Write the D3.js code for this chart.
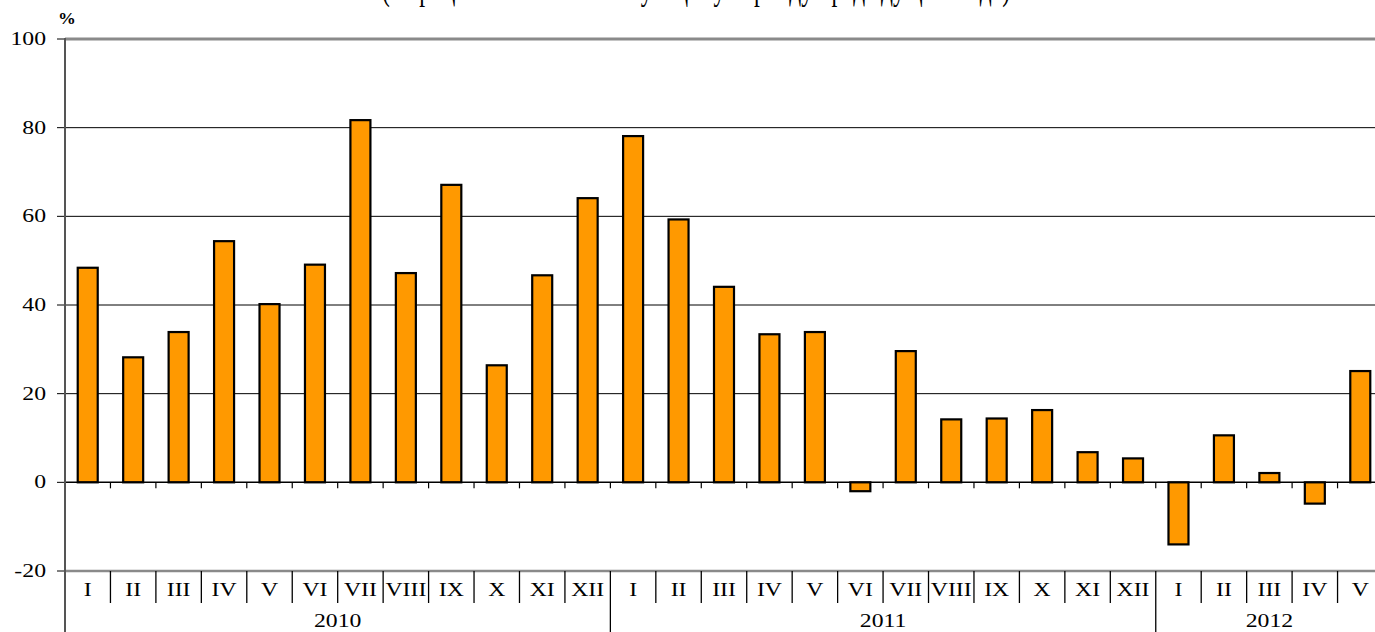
<!DOCTYPE html>
<html><head><meta charset="utf-8">
<script src="https://cdn.jsdelivr.net/npm/d3@7"></script>
<style>body{margin:0;background:#fff;overflow:hidden}svg{display:block}</style>
</head><body>
<svg id="c" width="1375" height="632"></svg>
<script>
const months = ["I","II","III","IV","V","VI","VII","VIII","IX","X","XI","XII",
                "I","II","III","IV","V","VI","VII","VIII","IX","X","XI","XII",
                "I","II","III","IV","V"];
const years = ["2010","2011","2012"];
const yearCounts = [12,12,5];
const values = [48.4,28.2,33.9,54.4,40.2,49.1,81.7,47.2,67.1,26.4,46.7,64.1,
                78.1,59.3,44.1,33.4,33.9,-2.0,29.6,14.2,14.4,16.3,6.8,5.4,
                -14.0,10.6,2.1,-4.8,25.1];
const yTicks = [-20,0,20,40,60,80,100];
const title = "(в процентах к соответствующему периоду предыдущего года)";

(function(){
const svg = d3.select("#c");
const pL = 65, pR = 1383, pT = 39, pB = 571;
const idx = d3.range(values.length);
const x = d3.scaleBand().domain(idx).range([pL, pR]).paddingInner(0).paddingOuter(0);
const y = d3.scaleLinear().domain([-20, 100]).range([pB, pT]);
const SX = 1.32;
const font = "'Liberation Serif', 'Times New Roman', serif";

function stext(g, xx, yy, txt, size, anchor, weight, sx) {
  return g.append("text")
    .attr("transform", `translate(${xx},${yy}) scale(${sx || SX},1)`)
    .attr("text-anchor", anchor).attr("font-family", font)
    .attr("font-size", size).attr("font-weight", weight || "normal")
    .attr("fill", "#000").text(txt);
}

// title (cut off at top edge, as in the source)
svg.append("text")
  .attr("x", 382).attr("y", -0.5)
  .attr("textLength", 628).attr("lengthAdjust", "spacingAndGlyphs")
  .attr("font-family", font).attr("font-size", 34)
  .attr("fill", "#000").text(title);

// gridlines
svg.append("g").selectAll("line").data([20,40,60,80]).join("line")
  .attr("x1", pL).attr("x2", 1375).attr("y1", d => y(d)).attr("y2", d => y(d))
  .attr("stroke", "#000").attr("stroke-width", 1);
svg.append("line").attr("x1", pL).attr("x2", 1375).attr("y1", y(100)).attr("y2", y(100))
  .attr("stroke", "#8a8a8a").attr("stroke-width", 3);
svg.append("line").attr("x1", pL).attr("x2", 1375).attr("y1", y(-20)).attr("y2", y(-20))
  .attr("stroke", "#8a8a8a").attr("stroke-width", 2.5);

// y axis ticks & labels
const yg = svg.append("g");
yTicks.forEach(t => {
  yg.append("line").attr("x1", 57).attr("x2", pL).attr("y1", y(t)).attr("y2", y(t))
    .attr("stroke", "#000").attr("stroke-width", 1);
  stext(yg, 46, y(t) + 6, String(t), 18, "end");
});
stext(svg, 67, 24, "%", 17, "middle", "bold", 1.05);

// bars
const bw = 20;
svg.append("g").selectAll("rect").data(idx).join("rect")
  .attr("x", i => x(i) + x.bandwidth()/2 - bw/2)
  .attr("width", bw)
  .attr("y", i => y(Math.max(0, values[i])))
  .attr("height", i => Math.abs(y(values[i]) - y(0)))
  .attr("fill", "#FF9900").attr("stroke", "#000").attr("stroke-width", 2.2);

// zero line with ticks
svg.append("line").attr("x1", pL).attr("x2", 1375).attr("y1", y(0)).attr("y2", y(0))
  .attr("stroke", "#000").attr("stroke-width", 1.5);
svg.append("g").selectAll("line").data(idx.slice(1)).join("line")
  .attr("x1", i => x(i)).attr("x2", i => x(i))
  .attr("y1", y(0)).attr("y2", y(0) + 6)
  .attr("stroke", "#000").attr("stroke-width", 1.2);

// category separators
const yearStarts = [12, 24];
svg.append("g").selectAll("line").data(idx.slice(1)).join("line")
  .attr("x1", i => x(i)).attr("x2", i => x(i))
  .attr("y1", pB).attr("y2", i => yearStarts.includes(i) ? 632 : 603)
  .attr("stroke", "#000").attr("stroke-width", 1.3);

// month labels
const mg = svg.append("g");
idx.forEach(i => stext(mg, x(i) + x.bandwidth()/2, 596, months[i], 18, "middle"));

// year labels
const yg2 = svg.append("g");
let start = 0;
years.forEach((yr, k) => {
  const a = x(start), b = x(start + yearCounts[k] - 1) + x.bandwidth();
  stext(yg2, (a + b)/2, 627, yr, 18, "middle");
  start += yearCounts[k];
});

// left axis line
svg.append("line").attr("x1", pL).attr("x2", pL).attr("y1", pT - 1).attr("y2", 632)
  .attr("stroke", "#555").attr("stroke-width", 2);
})();
</script>
</body></html>
